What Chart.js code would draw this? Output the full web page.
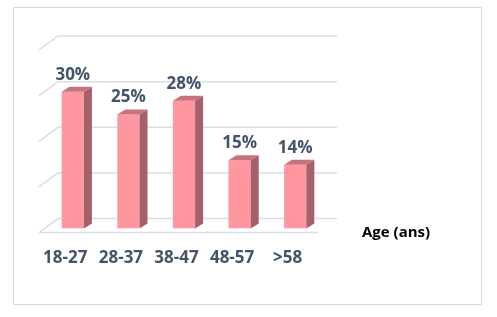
<!DOCTYPE html>
<html>
<head>
<meta charset="utf-8">
<script src="https://cdn.jsdelivr.net/npm/chart.js@4/dist/chart.umd.min.js"></script>
<style>
  html, body { margin: 0; padding: 0; background: #fff; }
  #wrap { width: 497px; height: 317px; }
</style>
</head>
<body>
<div id="wrap"><canvas id="ageChart" width="497" height="317"></canvas></div>
<script>
// --- DATA ---
const categories = ['18-27', '28-37', '38-47', '48-57', '>58'];
const shares = [30, 25, 28, 15, 14];
const gridValues = [0, 10, 20, 30, 40];
const axisTitle = 'Age (ans)';

const textColor = '#44546A';
const gridColor = '#D9DDE4';

// frame around the chart
const framePlugin = {
    id: 'frame',
    beforeDraw(chart) {
        const ctx = chart.ctx;
        ctx.save();
        ctx.strokeStyle = '#D9D9D9';
        ctx.lineWidth = 1;
        ctx.strokeRect(13.5, 7.5, 468, 297);
        ctx.restore();
    }
};

// 3D-looking back wall / side wall gridlines
const wallPlugin = {
    id: 'wall',
    beforeDatasetsDraw(chart) {
        const ctx = chart.ctx;
        const y = chart.scales.y;
        const area = chart.chartArea;
        ctx.save();
        ctx.strokeStyle = gridColor;
        ctx.lineWidth = 1.5;
        gridValues.forEach(v => {
            const py = y.getPixelForValue(v);
            ctx.beginPath();
            ctx.moveTo(area.left - 6, py + 4);
            ctx.lineTo(area.left + 13, py - 10);
            ctx.lineTo(area.right + 14, py - 10);
            ctx.stroke();
        });
        // floor front edge
        const p0 = y.getPixelForValue(0);
        ctx.beginPath();
        ctx.moveTo(area.left - 6, p0 + 4);
        ctx.lineTo(area.right - 5, p0 + 4);
        ctx.stroke();
        ctx.restore();
    }
};

// side + top faces, value labels, axis title
const barFacesPlugin = {
    id: 'barFaces',
    afterDatasetsDraw(chart) {
        const ctx = chart.ctx;
        const meta = chart.getDatasetMeta(0);
        const dx = 8, dy = 5;
        ctx.save();
        meta.data.forEach((bar, i) => {
            const { x, y, base, width } = bar.getProps(['x', 'y', 'base', 'width'], true);
            const l = x - width / 2;
            const r = x + width / 2;
            // side
            ctx.fillStyle = '#A5616A';
            ctx.beginPath();
            ctx.moveTo(r, y);
            ctx.lineTo(r + dx, y - dy);
            ctx.lineTo(r + dx, base - dy);
            ctx.lineTo(r, base);
            ctx.closePath();
            ctx.fill();
            // top
            ctx.fillStyle = '#C7737D';
            ctx.beginPath();
            ctx.moveTo(l, y);
            ctx.lineTo(l + dx, y - dy);
            ctx.lineTo(r + dx, y - dy);
            ctx.lineTo(r, y);
            ctx.closePath();
            ctx.fill();
            // value label
            ctx.fillStyle = textColor;
            ctx.font = 'bold 17px "Open Sans"';
            ctx.textAlign = 'center';
            ctx.textBaseline = 'alphabetic';
            ctx.fillText(shares[i] + '%', x, y - 12);
        });
        ctx.fillStyle = '#000';
        ctx.font = 'bold 15px "Open Sans"';
        ctx.textAlign = 'left';
        ctx.fillText(axisTitle, 362, 237);
        ctx.restore();
    }
};

new Chart(document.getElementById('ageChart'), {
    type: 'bar',
    data: {
        labels: categories,
        datasets: [{
            data: shares,
            backgroundColor: '#FF97A0',
            borderWidth: 0,
            barPercentage: 0.4,
            categoryPercentage: 1
        }]
    },
    options: {
        responsive: false,
        animation: false,
        layout: { padding: { left: 45, right: 174, top: 46, bottom: 30 } },
        plugins: {
            legend: { display: false },
            tooltip: { enabled: false }
        },
        scales: {
            x: {
                grid: { display: false, drawTicks: false },
                border: { display: false },
                ticks: {
                    color: textColor,
                    font: { family: 'Open Sans', size: 17, weight: 'bold' },
                    padding: 19,
                    labelOffset: -7.5,
                    maxRotation: 0
                }
            },
            y: {
                display: false,
                min: 0,
                max: 40,
                ticks: { stepSize: 10 }
            }
        }
    },
    plugins: [framePlugin, wallPlugin, barFacesPlugin]
});
</script>
</body>
</html>
